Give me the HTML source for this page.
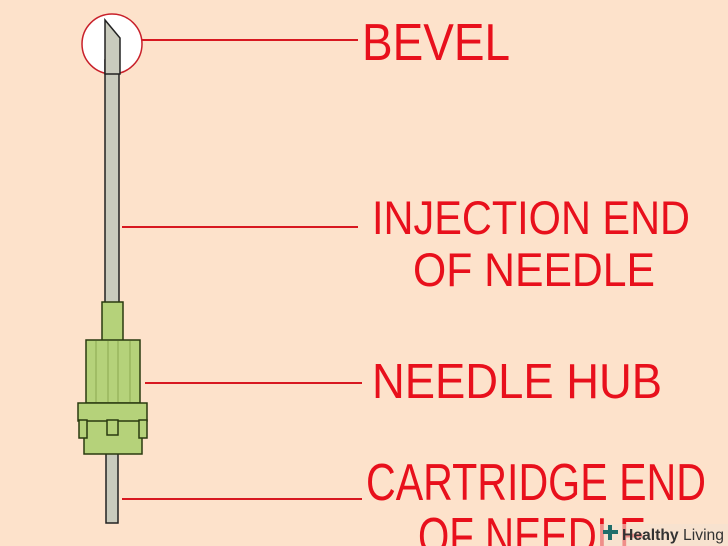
<!DOCTYPE html>
<html><head><style>body{margin:0}svg{display:block}</style></head><body>
<svg width="728" height="546" viewBox="0 0 728 546" xmlns="http://www.w3.org/2000/svg">
<rect width="728" height="546" fill="#fde2cb"/>
<g font-family="Liberation Sans, sans-serif" fill="#e8101c">
<text x="362" y="60" font-size="52" textLength="148" lengthAdjust="spacingAndGlyphs">BEVEL</text>
<text x="372" y="234" font-size="47" textLength="318" lengthAdjust="spacingAndGlyphs">INJECTION END</text>
<text x="413" y="286" font-size="47" textLength="242" lengthAdjust="spacingAndGlyphs">OF  NEEDLE</text>
<text x="372" y="398" font-size="49" textLength="290" lengthAdjust="spacingAndGlyphs">NEEDLE  HUB</text>
<text x="366" y="500" font-size="52" textLength="340" lengthAdjust="spacingAndGlyphs">CARTRIDGE END</text>
<text x="418" y="554" font-size="52" textLength="228" lengthAdjust="spacingAndGlyphs">OF NEEDLE</text>
</g>
<g stroke="#d81820" stroke-width="2">
<line x1="113" y1="40" x2="358" y2="40"/>
<line x1="122" y1="227" x2="358" y2="227"/>
<line x1="145" y1="383" x2="362" y2="383"/>
<line x1="122" y1="499" x2="362" y2="499"/>
</g>
<circle cx="112" cy="44" r="30" fill="#fff" stroke="#c8202a" stroke-width="1.5"/>
<rect x="105" y="60" width="14" height="244" fill="#c9cbbd" stroke="#222" stroke-width="1.5"/>
<polygon points="105,74 105,20 120,38 120,74" fill="#c9cbbd" stroke="#222" stroke-width="1.5"/>
<rect x="106" y="450" width="12" height="73" fill="#c9cbbd" stroke="#222" stroke-width="1.5"/>
<g stroke="#2a3a10" stroke-width="1.5" fill="#b5d27a">
<rect x="102" y="302" width="21" height="39"/>
<rect x="86" y="340" width="54" height="63"/>
<rect x="84" y="420" width="58" height="34"/>
<rect x="78" y="403" width="69" height="18"/>
<rect x="79" y="420" width="8" height="18"/>
<rect x="139" y="420" width="8" height="18"/>
<rect x="107" y="420" width="11" height="15"/>
</g>
<g stroke="#8aa850" stroke-width="1">
<line x1="96" y1="341" x2="96" y2="402"/><line x1="108" y1="341" x2="108" y2="402"/>
<line x1="118" y1="341" x2="118" y2="402"/><line x1="130" y1="341" x2="130" y2="402"/>
</g>
<rect x="600" y="524" width="128" height="22" fill="#f4e2d2" opacity="0.6"/>
<text x="622" y="540" font-family="Liberation Sans, sans-serif" font-size="16" fill="#333" textLength="102" lengthAdjust="spacingAndGlyphs"><tspan font-weight="bold">Healthy</tspan> Living</text>
<g fill="#1f6e6a"><rect x="603" y="530" width="15" height="4"/><rect x="608" y="525" width="4" height="15"/></g>
</svg>
</body></html>
